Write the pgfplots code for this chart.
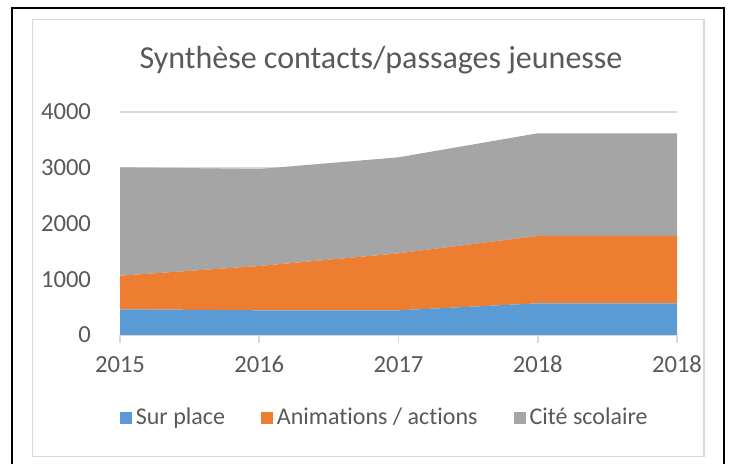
\documentclass[border=0pt]{standalone}
\usepackage{pgfplots}
\pgfplotsset{compat=1.18}
\usepackage{fontspec}
\setmainfont{Carlito}[Ligatures={NoCommon}]
\definecolor{txt}{HTML}{595959}
\definecolor{gridc}{HTML}{D9D9D9}
\definecolor{cblue}{HTML}{5B9BD5}
\definecolor{corange}{HTML}{ED7D31}
\definecolor{cgray}{HTML}{A5A5A5}
\begin{document}
\begin{tikzpicture}[x=0.5pt,y=0.5pt]
\path[use as bounding box] (0,0) rectangle (731,464);
\clip (0,0) rectangle (731,464);
% outer frame and chart area
\draw[line width=1pt] (12,-20) -- (12,456) -- (724,456) -- (724,-20);
\draw[gridc, line width=0.8pt] (32.5,7.3) rectangle (704,444.3);
\node[txt, font=\fontsize{16}{20}\selectfont] at (381,404) {Synthèse contacts/passages jeunesse};
\begin{axis}[
  at={(60pt,64.5pt)}, anchor=south west,
  scale only axis, width=278.5pt, height=111.5pt,
  xmin=0, xmax=4, ymin=0, ymax=4000,
  stack plots=y,
  xtick={0,1,2,3,4},
  xticklabels={2015,2016,2017,2018,2018},
  ytick={0,1000,2000,3000,4000},
  scaled y ticks=false,
  ymajorgrids, grid style={gridc, line width=0.8pt},
  axis x line*=bottom, axis y line*=left,
  x axis line style={gridc, line width=0.8pt, -},
  y axis line style={draw=none},
  xtick style={gridc, line width=0.8pt},
  ytick style={draw=none},
  tick align=outside, major tick length=4pt,
  tick label style={font=\fontsize{12.3}{14}\selectfont, text=txt},
  /pgf/number format/assume math mode=true,
  /pgf/number format/1000 sep={},
  xticklabel style={yshift=-3pt},
  yticklabel style={xshift=-7pt},
  legend style={at={(0.477,-0.372)}, anchor=center, draw=none,
    font=\fontsize{12}{14}\selectfont, text=txt,
    legend columns=3,
    /tikz/every even column/.append style={column sep=16pt}},
  legend image code/.code={\fill[#1] (0pt,-3pt) rectangle (6pt,3pt);},
]
\addplot[fill=cblue, draw=none] coordinates
  {(0,461)(1,443)(2,443)(3,568)(4,568)} \closedcycle;
\addlegendentry{Sur place}
\addplot[fill=corange, draw=none] coordinates
  {(0,603)(1,795)(2,1022)(3,1208)(4,1208)} \closedcycle;
\addlegendentry{Animat\kern0pt ions / act\kern0pt ions}
\addplot[fill=cgray, draw=none] coordinates
  {(0,1944)(1,1740)(2,1722)(3,1842)(4,1842)} \closedcycle;
\addlegendentry{Cité scolaire}
\end{axis}
\end{tikzpicture}
\end{document}
